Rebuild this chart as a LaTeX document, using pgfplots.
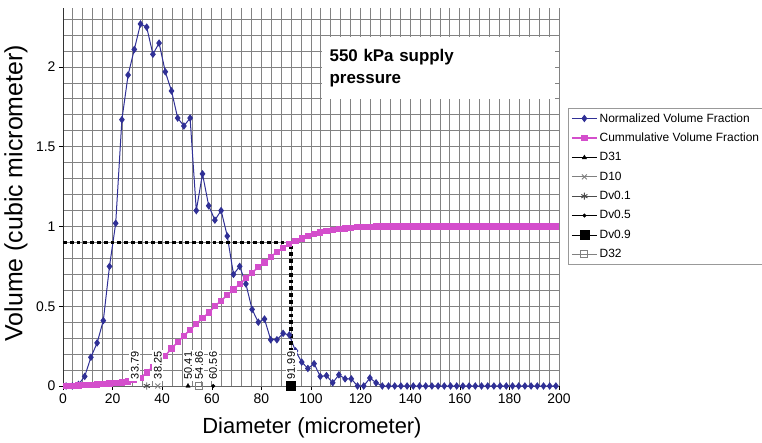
\documentclass[border=0pt]{standalone}
\usepackage{fontspec}
\setmainfont{Liberation Sans}
\usepackage{pgfplots}
\usepackage{pgfplotstable}
\pgfplotsset{compat=1.18}

\definecolor{navyser}{RGB}{48,48,150}
\definecolor{pinkser}{RGB}{212,78,204}
\definecolor{gridc}{RGB}{130,130,130}

% diameter (um), normalized volume fraction, cumulative volume fraction
\pgfplotstableread{
d nvf cvf
1.25 0 0
3.75 0 0.002
6.25 0.01 0.004
8.75 0.06 0.006
11.25 0.18 0.008
13.75 0.27 0.010
16.25 0.41 0.012
18.75 0.75 0.015
21.25 1.02 0.018
23.75 1.67 0.022
26.25 1.95 0.028
28.75 2.11 0.036
31.25 2.27 0.05
33.75 2.25 0.085
36.25 2.08 0.12
38.75 2.15 0.15
41.25 1.97 0.19
43.75 1.85 0.235
46.25 1.68 0.275
48.75 1.63 0.315
51.25 1.68 0.352
53.75 1.10 0.39
56.25 1.33 0.425
58.75 1.13 0.46
61.25 1.04 0.50
63.75 1.10 0.535
66.25 0.94 0.57
68.75 0.70 0.605
71.25 0.75 0.64
73.75 0.64 0.675
76.25 0.48 0.71
78.75 0.40 0.745
81.25 0.42 0.775
83.75 0.29 0.81
86.25 0.29 0.84
88.75 0.33 0.865
91.25 0.32 0.89
93.75 0.22 0.91
96.25 0.15 0.925
98.75 0.11 0.94
101.25 0.14 0.952
103.75 0.06 0.962
106.25 0.065 0.97
108.75 0.02 0.978
111.25 0.07 0.984
113.75 0.045 0.988
116.25 0.045 0.992
118.75 0 0.995
121.25 0 0.997
123.75 0.05 0.999
126.25 0.02 1
128.75 0 1
131.25 0 1
133.75 0 1
136.25 0 1
138.75 0 1
141.25 0 1
143.75 0 1
146.25 0 1
148.75 0 1
151.25 0 1
153.75 0 1
156.25 0 1
158.75 0 1
161.25 0 1
163.75 0 1
166.25 0 1
168.75 0 1
171.25 0 1
173.75 0 1
176.25 0 1
178.75 0 1
181.25 0 1
183.75 0 1
186.25 0 1
188.75 0 1
191.25 0 1
193.75 0 1
196.25 0 1
198.75 0 1
}\psd

\pgfplotsset{
  dlabel/.style={nodes near coords, point meta=explicit symbolic,
    every node near coord/.style={font=\fontsize{11}{11}\selectfont, fill=white,
      inner sep=1.5bp, yshift=5bp, rotate=90, anchor=west, text=black}}
}

\begin{document}
\begin{tikzpicture}
\path[use as bounding box] (-63bp,-57bp) rectangle (699bp,386bp);
\begin{axis}[
  at={(0,0)}, anchor=south west,
  scale only axis, width=496bp, height=378bp,
  xmin=0, xmax=200, ymin=0, ymax=2.37,
  axis x line*=bottom, axis y line*=left,
  x axis line style={-, gray!80!black, line width=0.8bp},
  y axis line style={-, black!80, line width=0.8bp},
  xtick={0,20,...,200}, minor xtick={0,4,...,200},
  ytick={0,0.5,1,1.5,2}, minor ytick={0,0.1,...,2.35},
  grid=both,
  major grid style={gridc, line width=0.9bp},
  minor grid style={gridc, line width=0.9bp},
  tick style={black, line width=0.6bp},
  major tick length=4bp, minor tick length=0bp,
  tick align=outside,
  tick label style={font=\fontsize{14}{14}\selectfont},
  /pgf/number format/assume math mode=true,
  xlabel={Diameter (micrometer)},
  ylabel={Volume (cubic micrometer)},
  xlabel style={font=\fontsize{22}{22}\selectfont, at={(axis description cs:0.502,-0.111)}, anchor=center},
  ylabel style={font=\fontsize{25}{25}\selectfont, at={(axis description cs:-0.095,0.51)}, anchor=center},
  clip=false,
  legend cell align=left,
  legend image code/.code={\draw[mark repeat=2, mark phase=2, #1] plot coordinates {(0bp,0bp) (12.5bp,0bp) (25bp,0bp)};},
  legend style={at={(1.018,0.735)}, anchor=north west, draw=gray!80, fill=white,
    font=\fontsize{12}{13}\selectfont, row sep=5.5bp, inner xsep=3bp, inner ysep=3bp},
]
\addplot[navyser, line width=1bp, mark=diamond*, mark size=3bp] table[x=d, y=nvf] {\psd};
\addplot[pinkser, line width=1.5bp, mark=square*, mark size=2.4bp] table[x=d, y=cvf] {\psd};
\addplot[black, line width=3.8bp, dash pattern=on 3.8bp off 3bp, forget plot] coordinates {(0,0.9) (91.99,0.9) (91.99,0)};
\addplot[black, mark=triangle*, mark size=2.5bp, dlabel] coordinates {(50.41,0) [50.41]};
\addplot[gray, mark=x, mark size=3.5bp, line width=0.9bp, dlabel] coordinates {(38.25,0) [38.25]};
\addplot[black!70, mark=asterisk, mark size=3.5bp, line width=0.9bp, dlabel,
  every node near coord/.append style={yshift=12bp}] coordinates {(33.79,0) [33.79]};
\addplot[black, mark=*, mark size=1.8bp, dlabel] coordinates {(60.56,0) [60.56]};
\addplot[black, mark=square*, mark size=4.5bp, dlabel] coordinates {(91.99,0) [91.99]};
\addplot[gray, mark=square, mark size=3.5bp, line width=0.8bp, dlabel] coordinates {(54.86,0) [54.86]};
\legend{Normalized Volume Fraction, Cummulative Volume Fraction, D31, D10, Dv0.1, Dv0.5, Dv0.9, D32}
\node[fill=white, anchor=north west, text width=217bp, inner xsep=8bp, inner ysep=12bp,
  align=left, font=\bfseries\fontsize{17}{22}\selectfont] at (axis cs:104.2,2.19) {550 kPa supply\\pressure};
\end{axis}
\end{tikzpicture}
\end{document}
